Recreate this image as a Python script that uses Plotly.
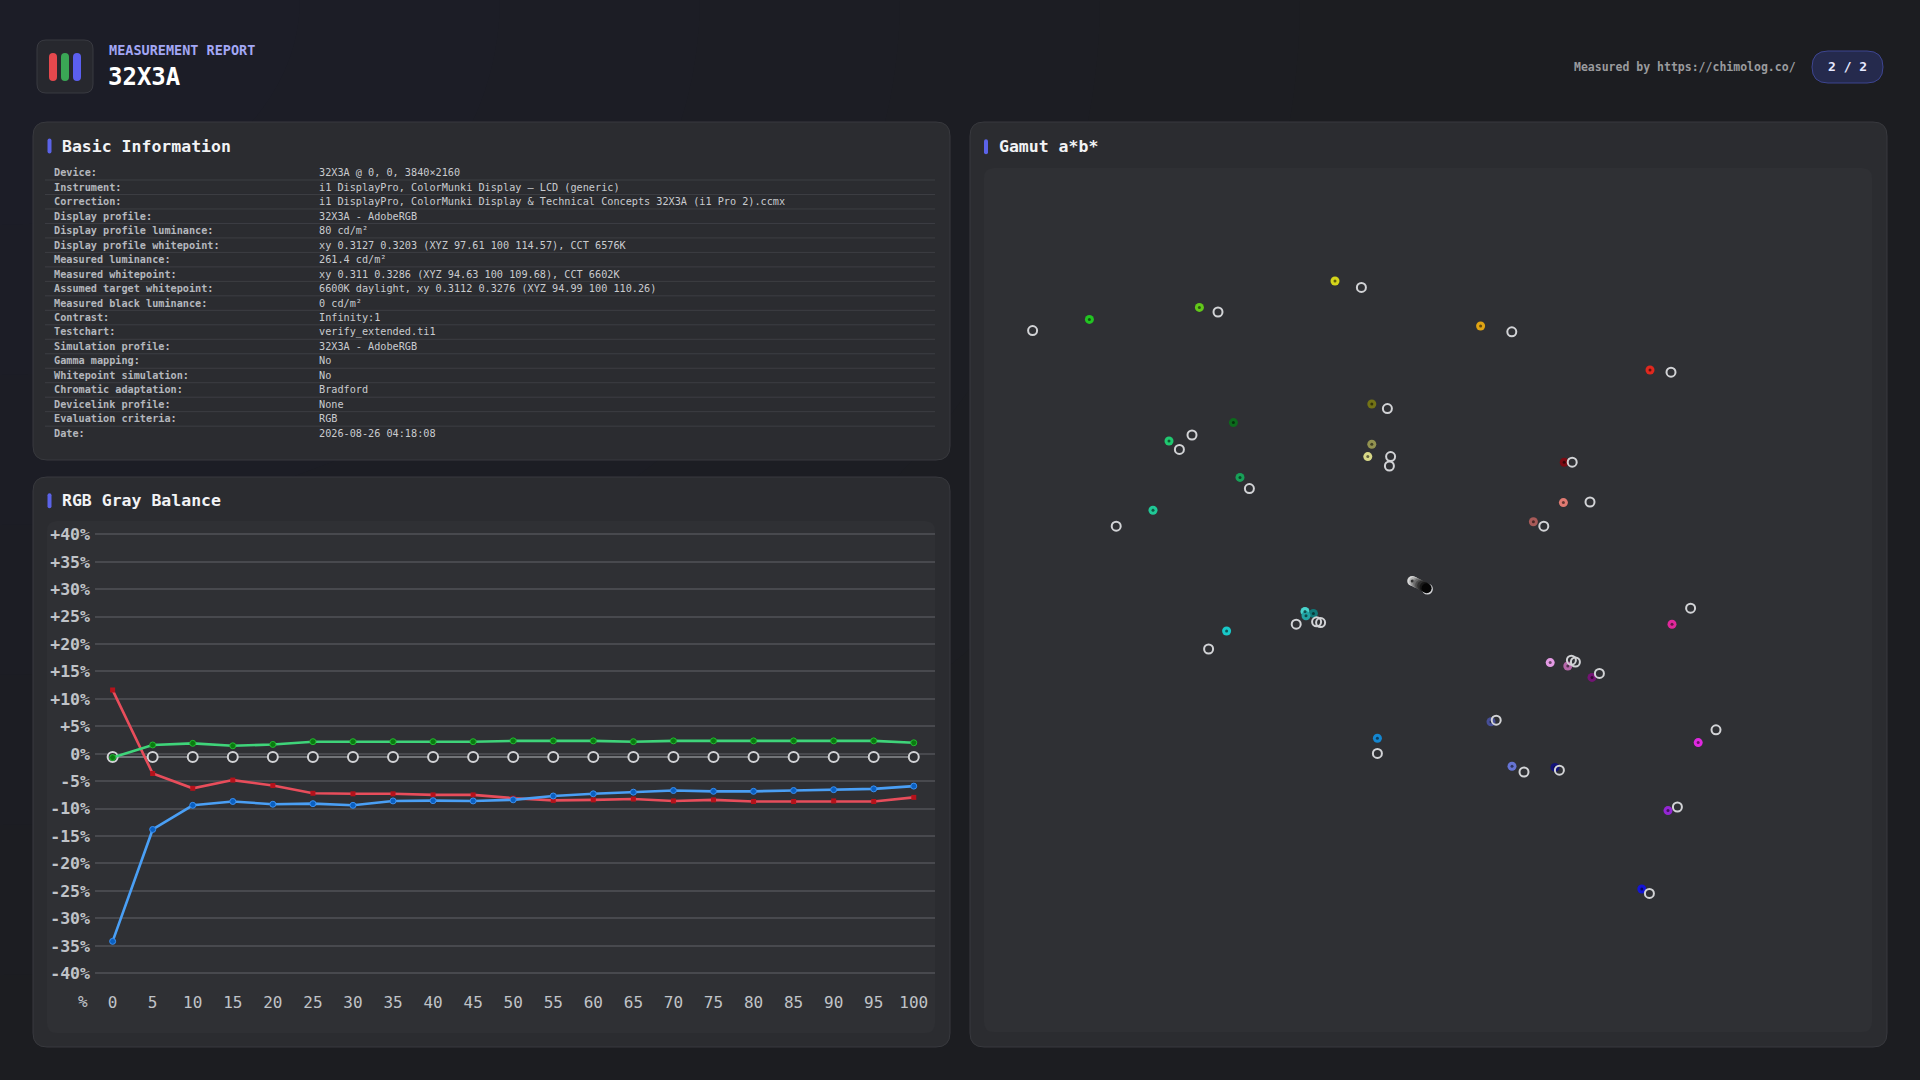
import plotly.graph_objects as go

W, H = 1920, 1080
MONO = "DejaVu Sans Mono"

# ---- RGB gray balance (deviation in % per gray level) ----
levels = [0, 5, 10, 15, 20, 25, 30, 35, 40, 45, 50, 55, 60, 65, 70, 75, 80, 85, 90, 95, 100]
red_dev = [11.6, -3.6, -6.3, -4.8, -5.8, -7.2, -7.3, -7.3, -7.5, -7.5, -8.1,
           -8.5, -8.4, -8.25, -8.6, -8.4, -8.7, -8.7, -8.6, -8.7, -7.95]
green_dev = [-0.7, 1.6, 1.9, 1.45, 1.7, 2.2, 2.2, 2.2, 2.2, 2.2, 2.35,
             2.35, 2.35, 2.2, 2.35, 2.35, 2.35, 2.35, 2.35, 2.35, 2.0]
blue_dev = [-34.2, -13.8, -9.4, -8.7, -9.2, -9.1, -9.4, -8.6, -8.55, -8.6, -8.4,
            -7.7, -7.3, -7.0, -6.7, -6.85, -6.85, -6.7, -6.55, -6.4, -5.9]
ref_dev = [-0.6, -0.6, -0.6, -0.6, -0.6, -0.6, -0.6, -0.6, -0.6, -0.6, -0.6,
           -0.6, -0.6, -0.6, -0.6, -0.6, -0.6, -0.6, -0.6, -0.6, -0.6]
y_ticks = [40, 35, 30, 25, 20, 15, 10, 5, 0, -5, -10, -15, -20, -25, -30, -35, -40]
y_tick_labels = ["+40%", "+35%", "+30%", "+25%", "+20%", "+15%", "+10%", "+5%", "0%",
                 "-5%", "-10%", "-15%", "-20%", "-25%", "-30%", "-35%", "-40%"]
x_tick_labels = [str(v) for v in levels]

# ---- Gamut a*b* ----
meas_a = [-80.9, -53.4, -19.5, -10.3, -44.9, -61.0, -10.3, -11.3, -43.25, -65.0,
          16.9, 59.25, 37.8, 37.6, 30.1,
          -46.6, -27.0, -24.9, -26.75, -8.9,
          64.75, 34.3, 38.7, 44.75, 19.5, 71.3, 24.75, 35.5, 63.75, 57.2]
meas_b = [66.4, 69.4, 76.0, 45.25, 40.6, 36.0, 35.2, 32.1, 26.9, 18.7,
          64.75, 53.75, 30.7, 20.6, 15.8,
          -11.5, -6.6, -7.1, -7.7, -38.3,
          -9.8, -19.4, -20.25, -23.1, -34.2, -39.4, -45.3, -45.6, -56.4, -76.0]
meas_colors = ["#22c422", "#62c81a", "#d4d41a", "#737316", "#0c6a1c", "#20c870", "#929250",
               "#d8d888", "#18a058", "#20c896",
               "#e0a414", "#e0281e", "#7a0a12", "#e07a72", "#a85a58",
               "#18c8c8", "#48d4cc", "#107878", "#22a4a4", "#1486d0",
               "#e0289a", "#e49ae4", "#b466a8", "#741474", "#464e96", "#e028e0",
               "#6674d4", "#12127a", "#9426d4", "#1414d4"]
ref_a = [-95.1, -48.75, -12.9, -6.4, -55.25, -58.4, -5.6, -5.9, -40.9, -74.2,
         24.7, 64.5, 39.8, 44.25, 32.7,
         -51.1, -29.2, -24.1, -23.1, -8.9,
         69.4, 39.6, 40.6, 46.6, 20.8, 75.75, 27.75, 36.6, 66.1, 59.1, 3.6]
ref_b = [63.6, 68.25, 74.4, 44.1, 37.5, 33.9, 32.1, 29.75, 24.1, 14.7,
         63.3, 53.2, 30.7, 20.75, 14.7,
         -16.0, -9.8, -9.2, -9.4, -42.1,
         -5.8, -18.8, -19.25, -22.1, -33.8, -36.2, -46.75, -46.3, -55.5, -77.1, -1.0]
gray_a = [-0.2, 0.3, 0.8, 1.3, 1.8, 2.3, 2.9, 3.4]
gray_b = [1.0, 0.8, 0.5, 0.3, 0.0, -0.2, -0.5, -0.8]
gray_colors = ["#d8d8d8", "#b4b4b4", "#909090", "#6c6c6c", "#4c4c4c", "#303030", "#181818", "#050505"]

# ---- Basic information table ----
info_labels = ["Device:", "Instrument:", "Correction:", "Display profile:",
               "Display profile luminance:", "Display profile whitepoint:",
               "Measured luminance:", "Measured whitepoint:", "Assumed target whitepoint:",
               "Measured black luminance:", "Contrast:", "Testchart:", "Simulation profile:",
               "Gamma mapping:", "Whitepoint simulation:", "Chromatic adaptation:",
               "Devicelink profile:", "Evaluation criteria:", "Date:"]
info_values = ["32X3A @ 0, 0, 3840×2160",
               "i1 DisplayPro, ColorMunki Display – LCD (generic)",
               "i1 DisplayPro, ColorMunki Display & Technical Concepts 32X3A (i1 Pro 2).ccmx",
               "32X3A - AdobeRGB",
               "80 cd/m²",
               "xy 0.3127 0.3203 (XYZ 97.61 100 114.57), CCT 6576K",
               "261.4 cd/m²",
               "xy 0.311 0.3286 (XYZ 94.63 100 109.68), CCT 6602K",
               "6600K daylight, xy 0.3112 0.3276 (XYZ 94.99 100 110.26)",
               "0 cd/m²",
               "Infinity:1",
               "verify_extended.ti1",
               "32X3A - AdobeRGB",
               "No",
               "No",
               "Bradford",
               "None",
               "RGB",
               "2026-08-26 04:18:08"]


def px(x):
    return x / W


def py(y):
    return 1 - y / H


def rrect(x0, y0, x1, y1, r, fill, line=None, lw=1):
    # rounded rectangle in pixel coords -> paper path
    pts = (f"M {px(x0 + r)},{py(y0)} L {px(x1 - r)},{py(y0)} Q {px(x1)},{py(y0)} {px(x1)},{py(y0 + r)} "
           f"L {px(x1)},{py(y1 - r)} Q {px(x1)},{py(y1)} {px(x1 - r)},{py(y1)} "
           f"L {px(x0 + r)},{py(y1)} Q {px(x0)},{py(y1)} {px(x0)},{py(y1 - r)} "
           f"L {px(x0)},{py(y0 + r)} Q {px(x0)},{py(y0)} {px(x0 + r)},{py(y0)} Z")
    return dict(type="path", path=pts, xref="paper", yref="paper", fillcolor=fill,
                line=dict(color=line if line else fill, width=lw if line else 0), layer="below")


def label(x, y, text, size, color, anchor="left", bold=False):
    return dict(x=px(x), y=py(y), xref="paper", yref="paper", text=text, showarrow=False,
                xanchor=anchor, yanchor="middle",
                font=dict(family=MONO, size=size, color=color, weight="bold" if bold else "normal"))


shapes = []
annotations = []

# soft bluish glow in the top-left of the page background (stacked faint discs)
for rad in [1300, 1100, 900, 700, 500, 300]:
    shapes.append(dict(type="circle", xref="paper", yref="paper", x0=px(-rad), x1=px(rad),
                       y0=py(-rad * 0.75), y1=py(rad * 0.75), fillcolor="rgba(70,80,150,0.012)",
                       line=dict(width=0), layer="below"))

# header
shapes.append(rrect(37, 40, 93, 93, 9, "#27282e", "#393a41"))
shapes.append(rrect(49, 53, 57, 81, 4, "#e5484d"))
shapes.append(rrect(61, 53, 69, 81, 4, "#3aa655"))
shapes.append(rrect(73, 53, 81, 81, 4, "#5b5ff0"))
annotations.append(label(107, 50, "MEASUREMENT REPORT", 13.5, "#a3a7f5", bold=True))
annotations.append(label(106, 77, "32X3A", 24, "#ffffff", bold=True))
annotations.append(label(1798, 67, "Measured by https://chimolog.co/", 11.5, "#9a9b9e", anchor="right", bold=True))
shapes.append(rrect(1812, 51, 1883, 83, 16, "#252a4d", "#3d4590"))
annotations.append(label(1847.5, 67, "2 / 2", 13, "#e6e8ff", anchor="center", bold=True))

# panels
for x0, y0, x1, y1 in [(33, 122, 950, 460), (33, 477, 950, 1047), (970, 122, 1887, 1047)]:
    shapes.append(rrect(x0, y0, x1, y1, 14, "#2b2c30", "#38393e"))
shapes.append(rrect(47, 521, 935, 1033, 10, "#2f3034"))
shapes.append(rrect(984, 168, 1872, 1032, 10, "#2f3034"))

# panel titles
for bx, ty, title in [(47.5, 146, "Basic Information"), (47.5, 500.7, "RGB Gray Balance"),
                      (984, 146.7, "Gamut a*b*")]:
    shapes.append(rrect(bx, ty - 7.5, bx + 4, ty + 7.5, 2, "#5b63e8"))
    annotations.append(label(bx + 12.5, ty, title, 16.5, "#f2f3f5", bold=True))

# info table
row0, pitch = 172.7, 14.48
for i, (lab, val) in enumerate(zip(info_labels, info_values)):
    ry = row0 + i * pitch
    annotations.append(label(51.5, ry, lab, 10.2, "#b4b7bd", bold=True))
    annotations.append(label(317, ry, val, 10.2, "#c9cbcf"))
    if i < len(info_labels) - 1:
        shapes.append(dict(type="line", xref="paper", yref="paper", x0=px(45), x1=px(935),
                           y0=py(ry + 7.3), y1=py(ry + 7.3), line=dict(color="#3d3e43", width=1),
                           layer="below"))

annotations.append(label(90, 1001, "%", 16, "#c0c3c8", anchor="right"))

fig = go.Figure()

# gray balance traces
fig.add_trace(go.Scatter(x=levels, y=ref_dev, mode="lines+markers", xaxis="x", yaxis="y",
                         line=dict(color="#8a8b8f", width=1.5),
                         marker=dict(size=10, color="#2f3034", line=dict(color="#d2d3d6", width=2))))
fig.add_trace(go.Scatter(x=levels, y=red_dev, mode="lines+markers", xaxis="x", yaxis="y",
                         line=dict(color="#e84d5b", width=2.6),
                         marker=dict(size=5, color="#b5121b", symbol="square")))
fig.add_trace(go.Scatter(x=levels, y=blue_dev, mode="lines+markers", xaxis="x", yaxis="y",
                         line=dict(color="#4a9ff5", width=2.6),
                         marker=dict(size=6, color="#0a5fc0", line=dict(color="#3a8ff0", width=1))))
fig.add_trace(go.Scatter(x=levels, y=green_dev, mode="lines+markers", xaxis="x", yaxis="y",
                         line=dict(color="#3fd47a", width=2.6),
                         marker=dict(size=6, color="#0a7a10", line=dict(color="#22b830", width=1))))

# gamut traces
fig.add_trace(go.Scatter(x=meas_a, y=meas_b, mode="markers", xaxis="x2", yaxis="y2",
                         marker=dict(size=9, color=meas_colors, line=dict(width=0))))
fig.add_trace(go.Scatter(x=meas_a, y=meas_b, mode="markers", xaxis="x2", yaxis="y2",
                         marker=dict(size=3, color="rgba(0,0,0,0.55)", line=dict(width=0))))
fig.add_trace(go.Scatter(x=ref_a, y=ref_b, mode="markers", xaxis="x2", yaxis="y2",
                         marker=dict(size=9, color="rgba(0,0,0,0)", line=dict(color="#d2d3d6", width=2))))
fig.add_trace(go.Scatter(x=gray_a, y=gray_b, mode="markers", xaxis="x2", yaxis="y2",
                         marker=dict(size=10, color=gray_colors, line=dict(width=0))))
fig.add_trace(go.Scatter(x=gray_a[:1], y=gray_b[:1], mode="markers", xaxis="x2", yaxis="y2",
                         marker=dict(size=3, color="#333333", line=dict(width=0))))

fig.update_layout(
    width=W, height=H, margin=dict(l=0, r=0, t=0, b=0),
    paper_bgcolor="#1c1d21", plot_bgcolor="rgba(0,0,0,0)",
    showlegend=False, shapes=shapes, annotations=annotations,
    xaxis=dict(domain=[px(95), px(935)], range=[-2.2, 102.65], showgrid=False, zeroline=False,
               tickmode="array", tickvals=levels, ticktext=x_tick_labels, ticks="",
               ticklabelstandoff=3,
               tickfont=dict(family=MONO, size=16, color="#c0c3c8"), fixedrange=True),
    yaxis=dict(domain=[py(988), py(521.7)], range=[-42.7, 42.3], showgrid=True,
               gridcolor="#48494e", gridwidth=1.5, zeroline=False,
               tickmode="array", tickvals=y_ticks, ticktext=y_tick_labels, ticks="",
               ticklabelstandoff=4,
               tickfont=dict(family=MONO, size=16.5, color="#c0c3c8", weight="bold"), fixedrange=True),
    xaxis2=dict(domain=[px(984), px(1872)], range=[-107.25, 114.75], visible=False, fixedrange=True),
    yaxis2=dict(domain=[py(1032), py(168)], range=[-111.75, 104.25], visible=False, fixedrange=True),
)

fig.write_html("out.html", config={"displayModeBar": False},
               post_script="document.body.style.margin='0';document.body.style.overflow='hidden';")
